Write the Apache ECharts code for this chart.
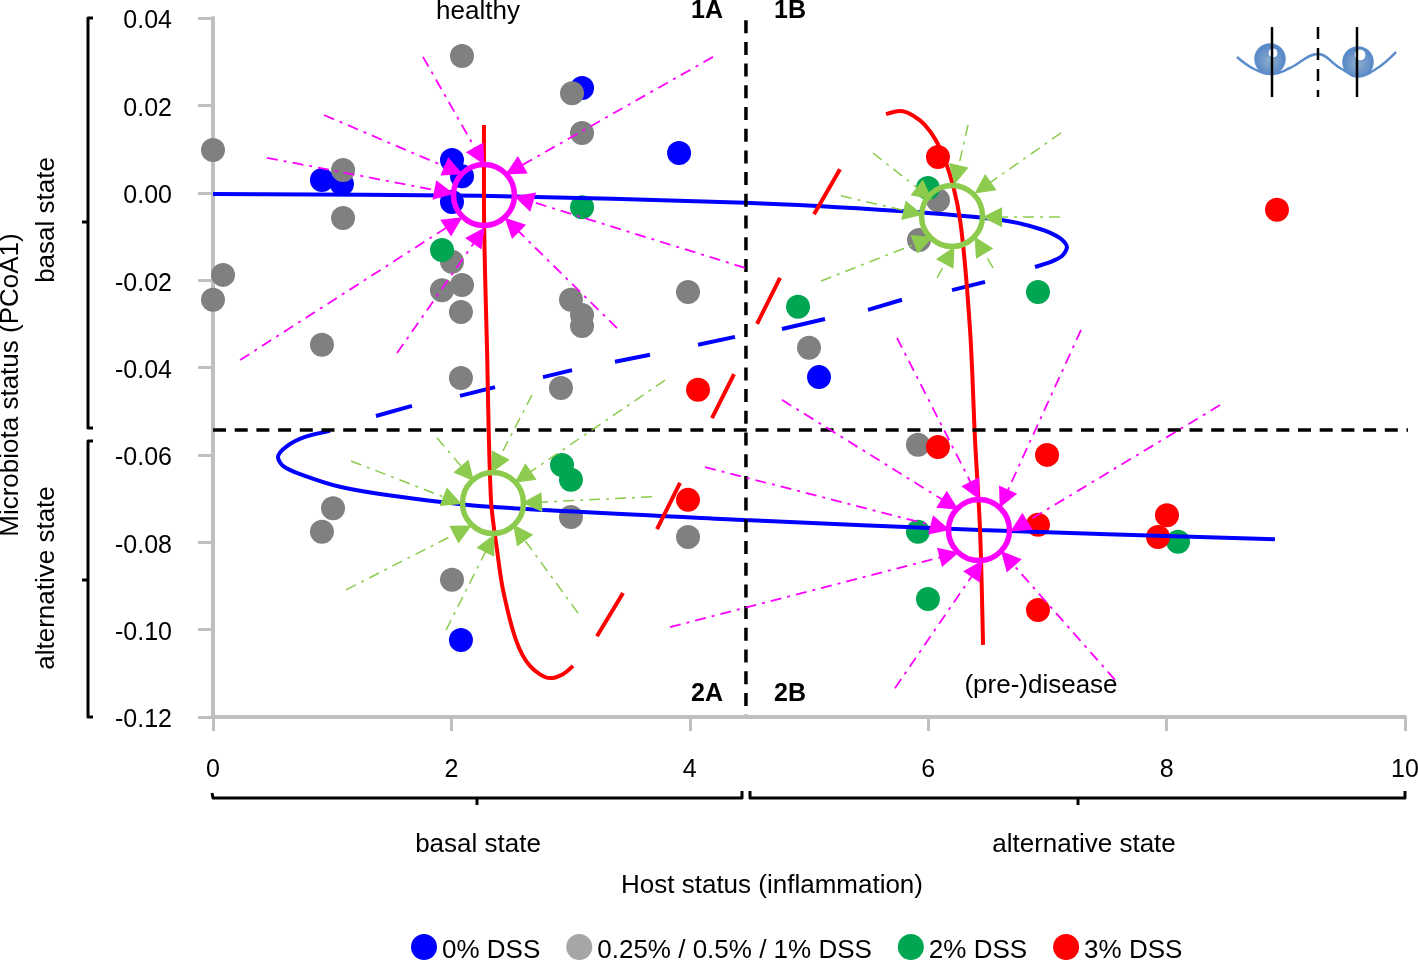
<!DOCTYPE html>
<html>
<head>
<meta charset="utf-8">
<title>Host and microbiota status</title>
<script src="https://cdn.jsdelivr.net/npm/echarts@6/dist/echarts.min.js"></script>
<style>
html, body { margin: 0; padding: 0; background: #fff; overflow: hidden; }
#main { width: 1418px; height: 960px; }
</style>
</head>
<body>
<div id="main"></div>
<script>
// scatter points [host status, PCoA1]
const dss0 = [[0.914,0.0029],[1.082,0.0020],[2.005,0.0075],[2.089,0.0038],[2.005,-0.0021],[3.096,0.0240],[3.910,0.0091],[5.084,-0.0422],[2.080,-0.1024]];
const dssLow = [[2.089,0.0313],[3.012,0.0228],[3.096,0.0137],[0,0.0098],[1.091,0.0052],[1.091,-0.0058],[0,-0.0245],[0.084,-0.0188],[0.914,-0.0348],[2.005,-0.0158],[1.921,-0.0223],[2.089,-0.0211],[2.080,-0.0273],[2.080,-0.0424],[3.003,-0.0245],[3.096,-0.0280],[3.096,-0.0305],[3.985,-0.0227],[2.919,-0.0447],[5.000,-0.0355],[5.923,-0.0108],[6.082,-0.0017],[5.914,-0.0577],[1.007,-0.0722],[0.914,-0.0776],[3.003,-0.0742],[3.985,-0.0788],[2.005,-0.0886]];
const dss2 = [[5.998,0.0011],[3.096,-0.0033],[1.921,-0.0131],[4.908,-0.0261],[6.921,-0.0227],[2.928,-0.0623],[3.003,-0.0657],[5.914,-0.0776],[5.998,-0.0930],[8.096,-0.0799]];
const dss3 = [[6.082,0.0082],[8.926,-0.0039],[4.069,-0.0451],[6.082,-0.0582],[6.997,-0.0600],[3.985,-0.0703],[6.921,-0.0760],[8.003,-0.0738],[7.928,-0.0788],[6.921,-0.0955]];

// fold curves
const blueUpper = [[0,-0.0003],[2.24,-0.0007],[4.463,-0.0023],[5.763,-0.0042],[6.602,-0.0062],[6.938,-0.0083],[7.106,-0.0104],[7.164,-0.0124],[7.122,-0.0145],[7.022,-0.0159],[6.896,-0.0170]];
const blueLower = [[0.982,-0.0545],[0.772,-0.0559],[0.621,-0.0580],[0.545,-0.0605],[0.587,-0.0625],[0.73,-0.0644],[1.065,-0.0673],[1.569,-0.0696],[2.324,-0.0719],[4.463,-0.0749],[6.435,-0.0772],[8.909,-0.0793]];
const blueDashes = [[[6.477,-0.0204],[6.2,-0.0223]],[[5.78,-0.0245],[5.495,-0.0268]],[[5.134,-0.0289],[4.773,-0.0312]],[[4.379,-0.0330],[4.069,-0.0348]],[[3.666,-0.0371],[3.372,-0.0387]],[[3.012,-0.0406],[2.768,-0.0422]],[[2.366,-0.0445],[2.072,-0.0465]],[[1.669,-0.0488],[1.367,-0.0511]]];
const redLeft = [[2.273,0.0155],[2.273,-0.0017],[2.299,-0.0360],[2.332,-0.0703],[2.383,-0.0818],[2.433,-0.0909],[2.542,-0.1024],[2.659,-0.1083],[2.827,-0.1111],[2.936,-0.1102],[3.02,-0.1083]];
const redRight = [[5.646,0.0180],[5.763,0.0187],[5.973,0.0155],[6.141,0.0075],[6.267,-0.0062],[6.351,-0.0314],[6.393,-0.0566],[6.435,-0.0772],[6.46,-0.1035]];
const redDashes = [[[3.221,-0.1015],[3.44,-0.0916]],[[3.725,-0.0770],[3.918,-0.0664]],[[4.186,-0.0516],[4.371,-0.0415]],[[4.564,-0.0300],[4.757,-0.0195]],[[5.042,-0.0049],[5.26,0.0054]]];

// quadrant dividers
const dividerV = [[4.471,0.0395],[4.471,-0.1195]];
const dividerH = [[0,-0.0543],[10.03,-0.0543]];

// attractors and basins, rays are [start, tip]
const stableStates = [[2.273,-0.0005],[6.426,-0.0772]];
const unstableStates = [[6.2,-0.0053],[2.349,-0.0710]];
const stableRays = [
  [[1.762,0.0311],[2.265,0.0070]],[[4.195,0.0311],[2.475,0.0045]],[[0.931,0.0178],[2.072,0.0045]],[[0.453,0.0080],[1.997,-0.0001]],
  [[0.227,-0.0383],[2.072,-0.0060]],[[1.544,-0.0367],[2.265,-0.0085]],[[3.389,-0.0310],[2.466,-0.0062]],[[4.463,-0.0172],[2.55,-0.0010]],
  [[5.738,-0.0332],[6.418,-0.0696]],[[7.282,-0.0314],[6.611,-0.0715]],[[8.448,-0.0486],[6.711,-0.0772]],[[4.773,-0.0474],[6.233,-0.0722]],
  [[4.128,-0.0628],[6.158,-0.0770]],[[3.834,-0.0994],[6.233,-0.0825]],[[5.721,-0.1134],[6.443,-0.0847]],[[7.567,-0.1115],[6.628,-0.0825]]
];
const unstableRays = [
  [[5.537,0.0091],[6.015,-0.0012]],[[6.334,0.0155],[6.225,0.0025]],[[7.114,0.0137],[6.409,0.0002]],[[7.106,-0.0056],[6.477,-0.0056]],
  [[6.544,-0.0172],[6.401,-0.0106]],[[6.074,-0.0195],[6.208,-0.0129]],[[5.101,-0.0202],[6.015,-0.0104]],[[5.268,-0.0007],[5.931,-0.0049]],
  [[1.879,-0.0561],[2.173,-0.0655]],[[2.676,-0.0463],[2.349,-0.0635]],[[3.792,-0.0429],[2.55,-0.0660]],[[3.683,-0.0696],[2.617,-0.0710]],
  [[3.062,-0.0962],[2.534,-0.0765]],[[1.955,-0.1001],[2.349,-0.0788]],[[1.116,-0.0909],[2.148,-0.0765]],[[1.158,-0.0614],[2.064,-0.0710]]
];

const FONT = '"Liberation Sans", Arial, sans-serif';
const BLUE = '#0000ff', GRAY = '#808080', GREEN = '#00a651', RED = '#ff0000';
const MAGENTA = '#ff00ff', LIME = '#8ccb4e', AXIS = '#bfbfbf';
const ARROW = 20;

function dots(name, data, color) {
  return { name: name, type: 'scatter', data: data, symbolSize: 24, z: 2, clip: false,
    itemStyle: { color: color, opacity: 1 } };
}
function curve(data, color, width, smooth, dash) {
  return { type: 'line', data: data, showSymbol: false, symbol: 'none', smooth: smooth, z: 3, clip: false,
    silent: true, lineStyle: { color: color, width: width, type: dash || 'solid', cap: 'butt' } };
}
// the arrow symbol is centred on the line end, so pull the end back along the ray
function pullBack(r) {
  let dx = (r[0][0] - r[1][0]) * 119.2, dy = (r[0][1] - r[1][1]) * 4369;
  let t = (ARROW * 0.35) / Math.sqrt(dx * dx + dy * dy);
  return [r[0], [r[1][0] + (r[0][0] - r[1][0]) * t, r[1][1] + (r[0][1] - r[1][1]) * t]];
}
function rays(data, color, width) {
  return { type: 'lines', coordinateSystem: 'cartesian2d', z: 4, silent: true, polyline: false,
    symbol: ['none', 'triangle'], symbolSize: ARROW,
    lineStyle: { color: color, width: width, type: [11, 6, 3, 6], opacity: 1, curveness: 0 },
    data: data.map(function (r) { return { coords: pullBack(r) }; }) };
}
function rings(data, color) {
  return { type: 'scatter', data: data, symbolSize: 61, z: 5, silent: true,
    itemStyle: { color: 'rgba(0,0,0,0)', borderColor: color, borderWidth: 5.5, opacity: 1 } };
}
function label(text, x, y, opt) {
  opt = opt || {};
  return { type: 'text', x: x, y: y, rotation: opt.rotation || 0, z: 10,
    style: { text: text, fill: '#000', align: 'center', verticalAlign: 'middle',
      font: (opt.bold ? 'bold ' : '') + (opt.size || 26) + 'px ' + FONT } };
}
function bracket(points) {
  return { type: 'polyline', z: 10, shape: { points: points },
    style: { stroke: '#000', lineWidth: 3, fill: null, lineJoin: 'round' } };
}
function ball(cx, cy) {
  return { type: 'circle', z: 9, shape: { cx: cx, cy: cy, r: 15 },
    style: { stroke: '#5b8ccb', lineWidth: 1.5,
      fill: { type: 'radial', x: 0.5, y: 0.55, r: 0.55,
        colorStops: [{ offset: 0, color: '#8fb0cf' }, { offset: 1, color: '#4f82c4' }] } } };
}

let myChart = echarts.init(document.getElementById('main'));
myChart.setOption({
  animation: false,
  backgroundColor: '#fff',
  textStyle: { fontFamily: FONT, color: '#000' },
  grid: { left: 213, top: 18, right: 13, bottom: 243, outerBoundsMode: 'none' },
  xAxis: {
    type: 'value', min: 0, max: 10, interval: 2,
    splitLine: { show: false },
    axisLine: { onZero: false, lineStyle: { color: AXIS, width: 4 } },
    axisTick: { length: 14, lineStyle: { color: AXIS, width: 3 } },
    axisLabel: { margin: 41, fontSize: 25, color: '#000', fontFamily: FONT, showMaxLabel: true, hideOverlap: false }
  },
  yAxis: {
    type: 'value', min: -0.12, max: 0.04, interval: 0.02,
    splitLine: { show: false },
    axisLine: { onZero: false, lineStyle: { color: AXIS, width: 4 } },
    axisTick: { length: 15, lineStyle: { color: AXIS, width: 3 } },
    axisLabel: { margin: 41, color: '#000',
      formatter: function (v) { return '{t|' + v.toFixed(2) + '}'; },
      rich: { t: { fontSize: 25, fontFamily: FONT, color: '#000', padding: [7, 0, 0, 0] } } }
  },
  legend: {
    left: 411, top: 934, padding: 0, itemWidth: 26, itemHeight: 26, itemGap: 26, icon: 'circle',
    formatter: '{t|{name}}',
    textStyle: { rich: { t: { fontSize: 26, color: '#000', fontFamily: FONT, padding: [8, 0, 0, 0] } } },
    data: [
      { name: '0% DSS' },
      { name: '0.25% / 0.5% / 1% DSS', itemStyle: { color: '#a6a6a6' } },
      { name: '2% DSS' },
      { name: '3% DSS' }
    ]
  },
  series: [
    dots('0% DSS', dss0, BLUE),
    dots('0.25% / 0.5% / 1% DSS', dssLow, GRAY),
    dots('2% DSS', dss2, GREEN),
    dots('3% DSS', dss3, RED),
    curve(blueUpper, BLUE, 4, 0.3),
    curve(blueLower, BLUE, 4, 0.3)
  ].concat(
    blueDashes.map(function (d) { return curve(d, BLUE, 4, false); }),
    [curve(redLeft, RED, 4, 0.3), curve(redRight, RED, 4, 0.3)],
    redDashes.map(function (d) { return curve(d, RED, 4, false); }),
    [
      curve(dividerV, '#000', 3.5, false, [13, 8.7]),
      curve(dividerH, '#000', 3.5, false, [13, 8.7]),
      rays(stableRays, MAGENTA, 1.8),
      rays(unstableRays, LIME, 1.5),
      rings(stableStates, MAGENTA),
      rings(unstableStates, LIME)
    ]
  ),
  graphic: [
    label('healthy', 478, 12),
    label('(pre-)disease', 1041, 686),
    label('1A', 707, 11, { bold: true, size: 25 }),
    label('1B', 790, 11, { bold: true, size: 25 }),
    label('2A', 707, 694, { bold: true, size: 25 }),
    label('2B', 790, 694, { bold: true, size: 25 }),
    label('Microbiota status (PCoA1)', 11, 385, { rotation: Math.PI / 2 }),
    label('basal state', 47, 220, { rotation: Math.PI / 2 }),
    label('alternative state', 47, 578, { rotation: Math.PI / 2 }),
    label('basal state', 478, 845),
    label('alternative state', 1084, 845),
    label('Host status (inflammation)', 772, 886),
    // brackets beside the axes
    bracket([[93, 18], [88, 18], [88, 428], [93, 428]]),
    bracket([[93, 441], [88, 441], [88, 717], [93, 717]]),
    bracket([[88, 222], [82, 222]]),
    bracket([[88, 580], [82, 580]]),
    bracket([[212, 793], [213, 798], [742, 798], [742, 791]]),
    bracket([[750, 791], [750, 798], [1405, 798], [1405, 791]]),
    bracket([[477, 798], [477, 805]]),
    bracket([[1078, 798], [1078, 805]]),
    // two wells icon
    { type: 'polyline', z: 8, shape: { points: [[1237, 57], [1254, 69], [1272, 74], [1290, 68], [1318, 54], [1340, 68], [1358, 76], [1376, 69], [1396, 52]], smooth: 0.4 },
      style: { stroke: '#5b8ccb', lineWidth: 2.5, fill: null } },
    ball(1270, 59),
    ball(1358, 62),
    { type: 'circle', z: 9, shape: { cx: 1273, cy: 53, r: 5 }, style: { fill: '#fff', stroke: '#5b8ccb', lineWidth: 1 } },
    { type: 'circle', z: 9, shape: { cx: 1360, cy: 55, r: 6 }, style: { fill: '#fff', stroke: '#5b8ccb', lineWidth: 1 } },
    { type: 'line', z: 10, shape: { x1: 1272, y1: 27, x2: 1272, y2: 97 }, style: { stroke: '#000', lineWidth: 2.5 } },
    { type: 'line', z: 10, shape: { x1: 1357, y1: 27, x2: 1357, y2: 97 }, style: { stroke: '#000', lineWidth: 2.5 } },
    { type: 'line', z: 10, shape: { x1: 1318, y1: 27, x2: 1318, y2: 97 }, style: { stroke: '#000', lineWidth: 2.5, lineDash: [12, 9] } }
  ]
});
</script>
</body>
</html>
